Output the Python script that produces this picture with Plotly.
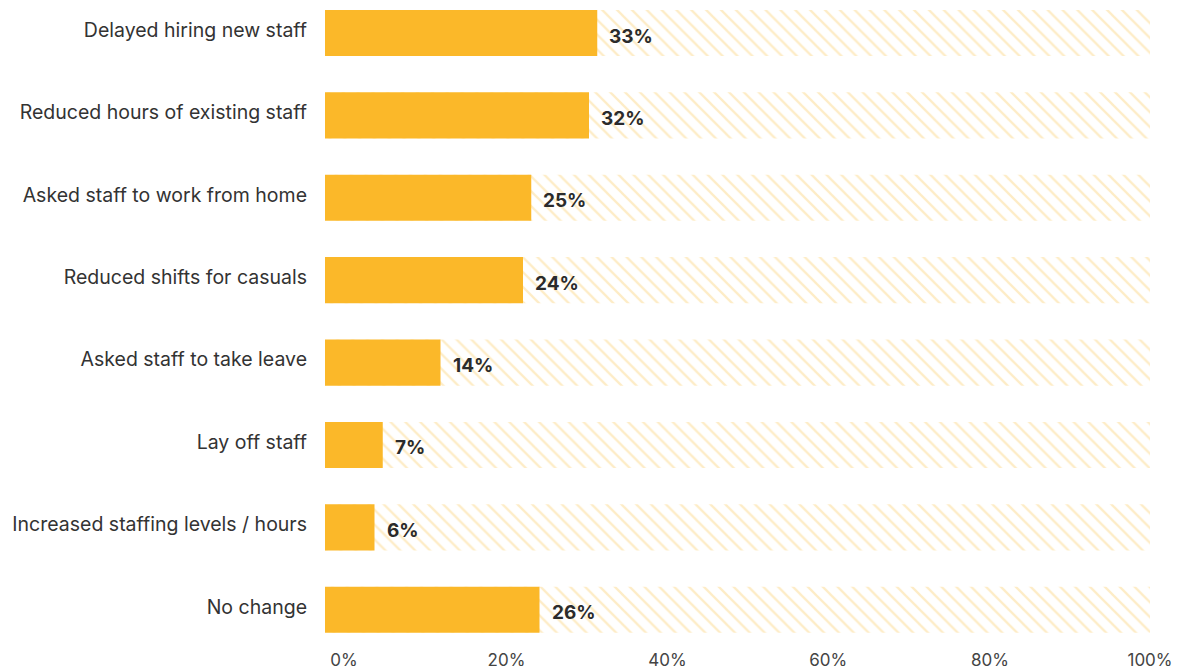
import plotly.graph_objects as go

# Survey responses: staffing changes made by businesses
categories = [
    "Delayed hiring new staff",
    "Reduced hours of existing staff",
    "Asked staff to work from home",
    "Reduced shifts for casuals",
    "Asked staff to take leave",
    "Lay off staff",
    "Increased staffing levels / hours",
    "No change",
]
shares = [33, 32, 25, 24, 14, 7, 6, 26]
full_scale = [100] * len(categories)
tick_labels = ["0%", "20%", "40%", "60%", "80%", "100%"]

BAR = "#FBB829"
HATCH = "#FCDA8E"
TEXT = "#2b2b2b"
FONT = "Inter"

fig = go.Figure()

# Hatched 100% track behind each bar
fig.add_trace(go.Bar(
    y=categories, x=full_scale, orientation="h",
    marker=dict(
        color="white",
        line=dict(width=0),
        pattern=dict(shape="\\", fgcolor=HATCH, bgcolor="white",
                     size=10.5, solidity=0.22, fillmode="overlay"),
    ),
    hoverinfo="skip", showlegend=False,
))

# Actual shares
fig.add_trace(go.Bar(
    y=categories, x=shares, orientation="h",
    marker=dict(color=BAR, line=dict(width=0)),
    showlegend=False,
))

# Value labels just to the right of each bar
for cat, val in zip(categories, shares):
    fig.add_annotation(
        x=val, y=cat, text=f"<b>{val}%</b>", showarrow=False,
        xanchor="left", yanchor="middle", xshift=10, yshift=-3,
        font=dict(family=FONT, size=19, color=TEXT),
    )

# Tick label placement along the value axis
tick_pos = [2.3, 22.0, 41.5, 61.0, 80.6, 100.0]

fig.update_layout(
    width=1184, height=670,
    margin=dict(l=325, r=34, t=0, b=30),
    barmode="overlay", bargap=0.44,
    plot_bgcolor="white", paper_bgcolor="white",
    font=dict(family=FONT, color=TEXT),
    xaxis=dict(
        range=[0, 100], tickvals=tick_pos, ticktext=tick_labels,
        showgrid=False, zeroline=False, showline=False, ticks="",
        tickfont=dict(family=FONT, size=17, color="#444444"),
        ticklabelstandoff=8, fixedrange=True,
    ),
    yaxis=dict(
        categoryorder="array", categoryarray=categories,
        range=[7.367, -0.4005],
        showgrid=False, zeroline=False, showline=False, ticks="",
        tickfont=dict(family=FONT, size=19.5, color="#333333"),
        ticklabelstandoff=17, ticklabelshift=3, fixedrange=True,
    ),
)

fig.write_html("out.html")
